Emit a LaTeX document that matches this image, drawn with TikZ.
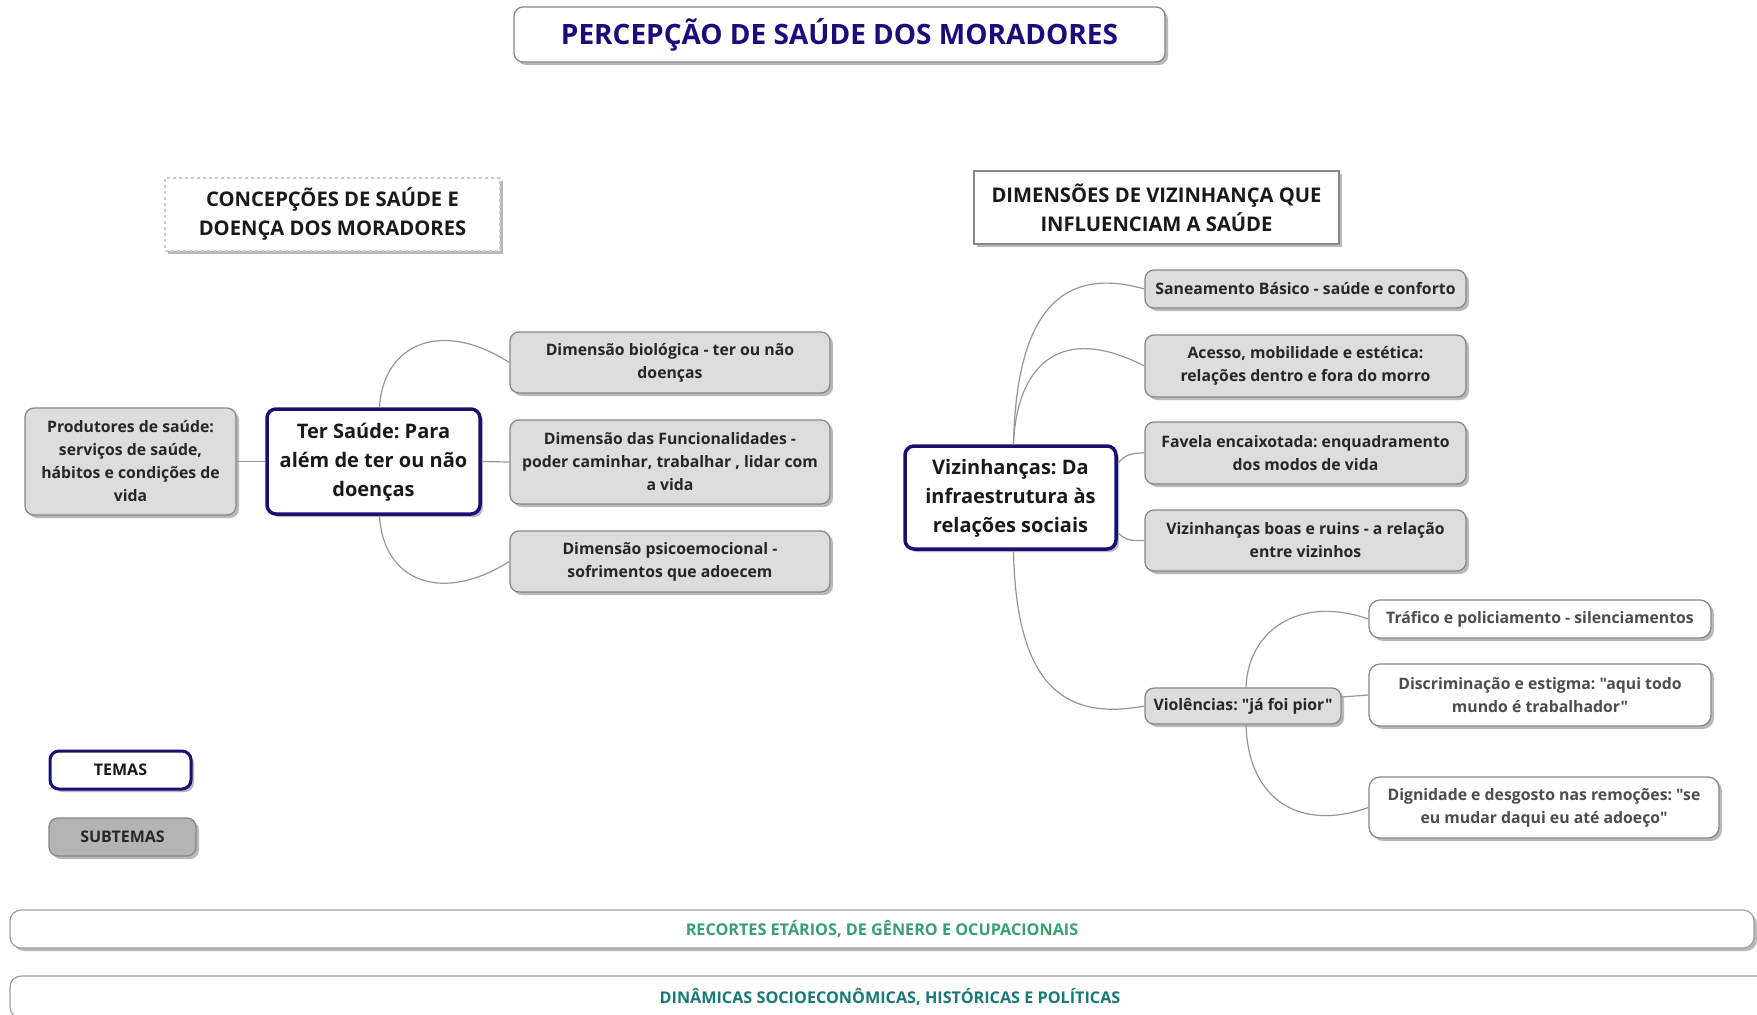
\documentclass[tikz,border=0pt]{standalone}
\usepackage{fontspec}
\setmainfont{Open Sans}[Ligatures=TeXOff]
\frenchspacing
\usetikzlibrary{shadows}
\definecolor{themeblue}{RGB}{25,15,115}
\definecolor{titleblue}{RGB}{30,10,120}
\definecolor{subfill}{RGB}{221,221,221}
\definecolor{subdraw}{RGB}{135,135,135}
\definecolor{legfill}{RGB}{180,180,180}
\definecolor{linkgray}{RGB}{150,150,150}
\definecolor{stripgreen}{RGB}{55,160,110}
\definecolor{stripteal}{RGB}{25,120,120}
\tikzset{
  shad/.style={drop shadow={shadow xshift=3pt, shadow yshift=-3pt, fill=black!50, opacity=0.55}},
  subbox/.style={shad, draw=subdraw, line width=1.3pt, fill=subfill, rounded corners=9pt, align=center,
    font=\fontsize{15.8}{23}\selectfont\bfseries, text=black!85, inner sep=2pt},
  whitebox/.style={shad, draw=subdraw, line width=1.3pt, fill=white, rounded corners=11pt, align=center,
    font=\fontsize{15.8}{23}\selectfont\bfseries, text=black!70, inner sep=2pt},
  themebox/.style={shad, draw=themeblue, line width=3.5pt, fill=white, rounded corners=9pt, align=center,
    font=\fontsize{20}{29}\selectfont\bfseries, text=black!90, inner sep=2pt},
  headbox/.style={shad, fill=white, align=center, font=\fontsize{20.2}{29}\selectfont\bfseries, text=black!90, inner sep=2pt},
  stripbox/.style={shad, draw=subdraw!80, line width=1.2pt, fill=white, rounded corners=11pt,
    font=\fontsize{16.2}{18}\selectfont\bfseries, inner sep=2pt},
  link/.style={draw=linkgray, line width=1.2pt}
}
\begin{document}
\begin{tikzpicture}[x=1pt,y=-1pt]
\useasboundingbox (0,0) rectangle (1757,1015);
% title
\node[shad, draw=subdraw, line width=1.3pt, fill=white, rounded corners=9pt, minimum width=651pt, minimum height=55pt,
  font=\fontsize{28}{32}\selectfont\bfseries, text=titleblue] (title) at (839.5,34.5) {PERCEPÇÃO DE SAÚDE DOS MORADORES};
% headers
\node[headbox, draw=black!20, dash pattern=on 3pt off 3pt, line width=2pt, minimum width=335pt, minimum height=73pt] (conc) at (332.5,214.5)
  {CONCEPÇÕES DE SAÚDE E\\DOENÇA DOS MORADORES};
\node[headbox, draw=subdraw, line width=1.3pt, minimum width=365pt, minimum height=73pt] (dimv) at (1156.5,207.5)
  {DIMENSÕES DE VIZINHANÇA QUE\\INFLUENCIAM A SAÚDE};
% left group
\node[subbox, minimum width=211pt, minimum height=107pt] (prod) at (130.5,461.5)
  {Produtores de saúde:\\serviços de saúde,\\hábitos e condições de\\vida};
\node[themebox, minimum width=213pt, minimum height=105pt] (ter) at (373.5,461.5)
  {\raisebox{-3pt}{\begin{tabular}{@{}c@{}}Ter Saúde: Para\\além de ter ou não\\doenças\end{tabular}}};
\node[subbox, minimum width=320pt, minimum height=61pt] (bio) at (670,362.5)
  {Dimensão biológica - ter ou não\\doenças};
\node[subbox, minimum width=320pt, minimum height=84pt] (func) at (670,462)
  {Dimensão das Funcionalidades -\\poder caminhar, trabalhar , lidar com\\a vida};
\node[subbox, minimum width=320pt, minimum height=61pt] (psico) at (670,561.5)
  {Dimensão psicoemocional -\\sofrimentos que adoecem};
% right group
\node[themebox, minimum width=211pt, minimum height=103pt] (viz) at (1010.5,497.5)
  {\raisebox{-3pt}{\begin{tabular}{@{}c@{}}Vizinhanças: Da\\infraestrutura às\\relações sociais\end{tabular}}};
\node[subbox, minimum width=321pt, minimum height=38pt] (san) at (1305.5,289)
  {Saneamento Básico - saúde e conforto};
\node[subbox, minimum width=321pt, minimum height=62pt] (ace) at (1305.5,366)
  {Acesso, mobilidade e estética:\\relações dentro e fora do morro};
\node[subbox, minimum width=321pt, minimum height=62pt] (fav) at (1305.5,453)
  {Favela encaixotada: enquadramento\\dos modos de vida};
\node[subbox, minimum width=321pt, minimum height=61pt] (boas) at (1305.5,540.5)
  {Vizinhanças boas e ruins - a relação\\entre vizinhos};
\node[subbox, minimum width=196pt, minimum height=36pt] (viol) at (1243,706)
  {Violências: "já foi pior"};
\node[whitebox, minimum width=342pt, minimum height=38pt] (traf) at (1540,619)
  {Tráfico e policiamento - silenciamentos};
\node[whitebox, minimum width=342pt, minimum height=62pt] (disc) at (1540,695)
  {Discriminação e estigma: "aqui todo\\mundo é trabalhador"};
\node[whitebox, minimum width=350pt, minimum height=61pt] (dign) at (1544,807.5)
  {Dignidade e desgosto nas remoções: "se\\eu mudar daqui eu até adoeço"};
% legend
\node[themebox, line width=3pt, font=\fontsize{16}{18}\selectfont\bfseries, minimum width=141pt, minimum height=38pt] (temas) at (120.5,770) {TEMAS};
\node[subbox, fill=legfill, font=\fontsize{16}{18}\selectfont\bfseries, minimum width=147pt, minimum height=38pt] (subt) at (122.5,837) {SUBTEMAS};
% strips
\node[stripbox, minimum width=1744pt, minimum height=38pt, text=stripgreen] (strip1) at (882,929)
  {RECORTES ETÁRIOS, DE GÊNERO E OCUPACIONAIS};
\node[stripbox, minimum width=1760pt, minimum height=42pt, text=stripteal] (strip2) at (890,997)
  {DINÂMICAS SOCIOECONÔMICAS, HISTÓRICAS E POLÍTICAS};
% connectors
\draw[link] (prod.east) -- (ter.west);
\draw[link] ([xshift=6pt]ter.north) .. controls (383,345) and (440,318) .. (bio.west);
\draw[link] (ter.east) -- (func.west);
\draw[link] ([xshift=6pt]ter.south) .. controls (383,580) and (440,605) .. (psico.west);
\draw[link] ([xshift=3pt]viz.north) .. controls (1016,330) and (1050,262) .. (san.west);
\draw[link] ([xshift=3pt]viz.north) .. controls (1016,372) and (1055,320) .. (ace.west);
\draw[link] ([yshift=34pt]viz.east) .. controls (1125,455) and (1130,453) .. (fav.west);
\draw[link] ([yshift=-35pt]viz.east) .. controls (1125,540) and (1130,541) .. (boas.west);
\draw[link] ([xshift=3pt]viz.south) .. controls (1016,680) and (1060,722) .. (viol.west);
\draw[link] ([xshift=3pt]viol.north) .. controls (1248,630) and (1300,595) .. (traf.west);
\draw[link] ([yshift=9pt]viol.east) -- (disc.west);
\draw[link] ([xshift=3pt]viol.south) .. controls (1248,800) and (1300,832) .. (dign.west);
\end{tikzpicture}
\end{document}
